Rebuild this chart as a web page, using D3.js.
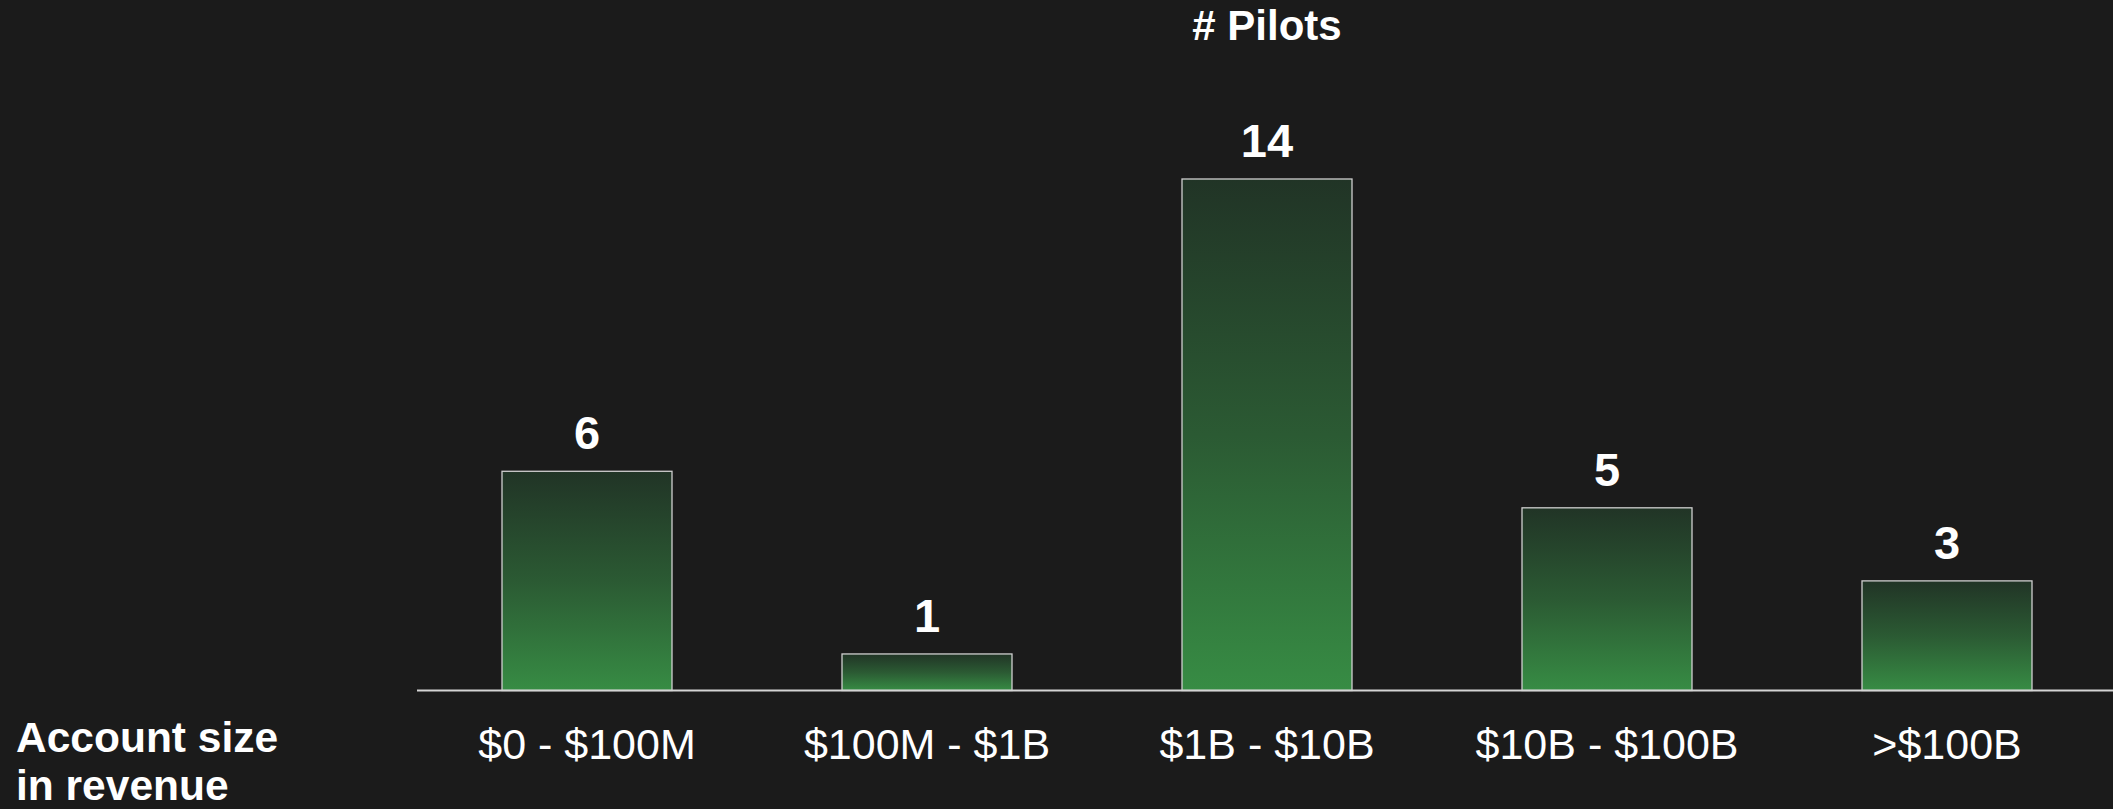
<!DOCTYPE html>
<html>
<head>
<meta charset="utf-8">
<script src="https://cdn.jsdelivr.net/npm/d3@7"></script>
<style>
  html, body { margin: 0; padding: 0; background: #1b1b1b; }
  svg { display: block; }
  text { font-family: "Liberation Sans", Arial, Helvetica, sans-serif; fill: #ffffff; }
</style>
</head>
<body>
<svg id="chart" width="2113" height="809"></svg>
<script>
const categories = ["$0 - $100M", "$100M - $1B", "$1B - $10B", "$10B - $100B", ">$100B"];
const pilots = [6, 1, 14, 5, 3];
const title = "# Pilots";
const axisTitle = ["Account size", "in revenue"];

const W = 2113, H = 809;
const svg = d3.select("#chart");
svg.append("rect").attr("width", W).attr("height", H).attr("fill", "#1b1b1b");

const defs = svg.append("defs");
const grad = defs.append("linearGradient")
  .attr("id", "barGrad").attr("x1", 0).attr("y1", 0).attr("x2", 0).attr("y2", 1);
grad.append("stop").attr("offset", "0%").attr("stop-color", "#213426");
grad.append("stop").attr("offset", "50%").attr("stop-color", "#2b5a33");
grad.append("stop").attr("offset", "100%").attr("stop-color", "#378c44");

const x = d3.scaleBand().domain(categories).range([417, 2117]).paddingInner(0.5).paddingOuter(0.25);
const y = d3.scaleLinear().domain([0, 14]).range([690.5, 179]);

// bars
svg.append("g").selectAll("rect").data(categories).join("rect")
  .attr("x", d => x(d))
  .attr("y", (d, i) => y(pilots[i]))
  .attr("width", x.bandwidth())
  .attr("height", (d, i) => y(0) - y(pilots[i]))
  .attr("fill", "url(#barGrad)")
  .attr("stroke", "#cfcfcf")
  .attr("stroke-width", 1.3);

// value labels
svg.append("g").selectAll("text").data(categories).join("text")
  .attr("x", d => x(d) + x.bandwidth() / 2)
  .attr("y", (d, i) => y(pilots[i]) - 22)
  .attr("text-anchor", "middle")
  .attr("font-size", 47)
  .attr("font-weight", "bold")
  .text((d, i) => pilots[i]);

// x axis
const xAxis = d3.axisBottom(x).tickSize(0).tickPadding(0);
const gx = svg.append("g").attr("transform", `translate(0,${y(0)})`).call(xAxis);
gx.select(".domain").remove();
gx.append("line").attr("x1", 417).attr("x2", W).attr("y1", 0).attr("y2", 0)
  .attr("stroke", "#d4d4d4").attr("stroke-width", 2);
gx.selectAll(".tick text")
  .attr("y", 68)
  .attr("dy", 0)
  .attr("font-size", 43)
  .attr("font-family", "'Liberation Sans', Arial, sans-serif")
  .style("fill", "#ffffff");

// title
svg.append("text")
  .attr("x", x(categories[2]) + x.bandwidth() / 2)
  .attr("y", 40)
  .attr("text-anchor", "middle")
  .attr("font-size", 42)
  .attr("font-weight", "bold")
  .text(title);

// axis title
svg.append("text")
  .attr("x", 16)
  .attr("y", 752)
  .attr("font-size", 42.5)
  .attr("font-weight", "bold")
  .selectAll("tspan").data(axisTitle).join("tspan")
  .attr("x", 16)
  .attr("dy", (d, i) => i === 0 ? 0 : 48)
  .text(d => d);
</script>
</body>
</html>
